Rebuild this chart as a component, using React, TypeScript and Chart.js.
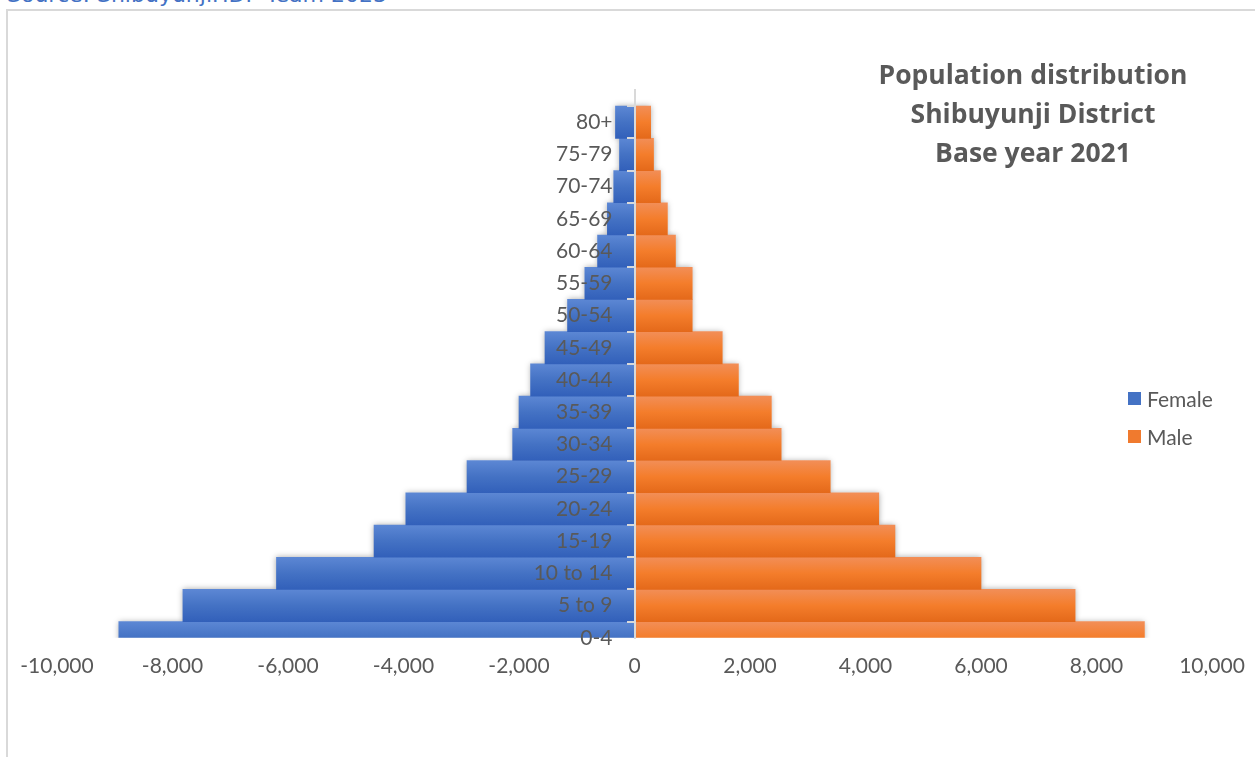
import React, { useEffect, useRef } from 'react';
import { Chart, registerables, CategoryScale } from 'chart.js';

Chart.register(...registerables);

// Category scale whose labels sit left of the tick marks even when the axis is placed at x = 0
class CenterCategoryScale extends (CategoryScale as any) {
  static id = 'centerCategory';
  static defaults = (CategoryScale as any).defaults;
  _computeLabelItems(chartArea: any) {
    const items = super._computeLabelItems(chartArea);
    const o = this.options;
    const shift = (o.grid.drawTicks ? o.grid.tickLength : 0) + o.ticks.padding;
    return items.map((it: any) => ({
      ...it,
      options: { ...it.options, translation: [it.options.translation[0] - shift, it.options.translation[1]] },
    }));
  }
}
Chart.register(CenterCategoryScale as any);

// ---- data ----
const ageGroups = ['0-4', '5 to 9', '10 to 14', '15-19', '20-24', '25-29', '30-34', '35-39', '40-44', '45-49', '50-54', '55-59', '60-64', '65-69', '70-74', '75-79', '80+'];
const female = [8930, 7820, 6200, 4510, 3960, 2900, 2110, 2000, 1800, 1550, 1160, 860, 640, 470, 360, 260, 330];
const male = [8830, 7630, 6000, 4510, 4230, 3390, 2540, 2370, 1800, 1520, 1000, 1000, 710, 570, 450, 330, 280];
const seriesNames = ['Female', 'Male'];
const xMin = -10000;
const xMax = 10000;
const xStep = 2000;
const titleLines = ['Population distribution', 'Shibuyunji District', 'Base year 2021'];
const sourceText = 'Source: ShibuyunjiHDP Team 2023';

// ---- styles ----
const FONT = 'Lato';
const TEXT = '#595959';
const blueStops = ['#5c87d4', '#4472c4', '#3260ba'];
const orangeStops = ['#f28e57', '#f47d2b', '#e4691a'];
const legendColors = ['#4472c4', '#f07a2e'];

const makeGradient = (stops: string[]) => (ctx: any) => {
  const chart = ctx.chart;
  const y = chart.scales && chart.scales.y;
  if (!chart.chartArea || !y || ctx.dataIndex === undefined) return stops[1];
  const c = y.getPixelForValue(ctx.dataIndex);
  const h = Math.abs(y.getPixelForValue(1) - y.getPixelForValue(0));
  const g = chart.ctx.createLinearGradient(0, c - h / 2, 0, c + h / 2);
  g.addColorStop(0, stops[0]);
  g.addColorStop(0.5, stops[1]);
  g.addColorStop(1, stops[2]);
  return g;
};

const shadowPlugin = {
  id: 'barShadow',
  beforeDatasetsDraw(chart: any) {
    const ctx = chart.ctx;
    const a = chart.chartArea;
    ctx.save();
    ctx.beginPath();
    ctx.rect(a.left, a.top, a.right - a.left, a.bottom - a.top);
    ctx.clip();
    ctx.shadowColor = 'rgba(0,0,0,0.35)';
    ctx.shadowBlur = 6;
    ctx.fillStyle = '#ffffff';
    chart.data.datasets.forEach((_d: any, di: number) => {
      const meta = chart.getDatasetMeta(di);
      meta.data.forEach((el: any) => {
        const p = el.getProps(['x', 'y', 'base', 'height'], true);
        if (p.x == null || isNaN(p.x)) return;
        const left = Math.min(p.x, p.base);
        const w = Math.abs(p.x - p.base);
        if (w < 0.5) return;
        ctx.fillRect(left, p.y - p.height / 2, w, p.height);
      });
    });
    ctx.restore();
  },
};

export default function App() {
  const canvasRef = useRef<HTMLCanvasElement | null>(null);

  useEffect(() => {
    if (!canvasRef.current) return;
    const labels = [...ageGroups, ''];
    const chart = new Chart(canvasRef.current, {
      type: 'bar',
      data: {
        labels,
        datasets: [
          {
            label: seriesNames[0],
            data: [...female.map((v) => -v), null],
            backgroundColor: makeGradient(blueStops),
            borderWidth: 0,
            barPercentage: 1,
            categoryPercentage: 1,
          },
          {
            label: seriesNames[1],
            data: [...male, null],
            backgroundColor: makeGradient(orangeStops),
            borderWidth: 0,
            barPercentage: 1,
            categoryPercentage: 1,
          },
        ],
      },
      options: {
        indexAxis: 'y',
        animation: false,
        responsive: true,
        maintainAspectRatio: false,
        layout: { padding: { left: 57, right: 43, top: 90, bottom: 62 } },
        plugins: {
          legend: { display: false },
          title: { display: false },
          tooltip: { enabled: false },
        },
        scales: {
          x: {
            type: 'linear',
            min: xMin,
            max: xMax,
            stacked: true,
            grid: { display: false, drawTicks: false },
            border: { display: false },
            ticks: {
              stepSize: xStep,
              padding: 3,
              color: TEXT,
              font: { family: FONT, size: 21, lineHeight: 2.44 },
              maxRotation: 0,
              callback: (v: any) => Number(v).toLocaleString('en-US'),
            },
          },
          y: {
            type: 'centerCategory',
            reverse: true,
            offset: false,
            stacked: true,
            position: { x: 0 } as any,
            grid: {
              drawOnChartArea: false,
              drawTicks: true,
              tickLength: 7,
              color: '#d9d9d9',
              lineWidth: 2,
              z: 1,
            },
            border: { display: true, color: '#d9d9d9', width: 2, z: 1 },
            ticks: {
              padding: 15,
              color: TEXT,
              font: { family: FONT, size: 21 },
              autoSkip: false,
              z: 2,
            },
          },
        },
      } as any,
      plugins: [shadowPlugin],
    });
    return () => chart.destroy();
  }, []);

  return (
    <div style={{ position: 'fixed', inset: 0, overflow: 'hidden', background: '#ffffff' }}>
      <div
        style={{
          position: 'absolute',
          left: 7,
          top: -16,
          font: '22px "DejaVu Sans"',
          lineHeight: '22px',
          color: '#4472c4',
          whiteSpace: 'nowrap',
        }}
      >
        {sourceText}
      </div>
      <div
        style={{
          position: 'absolute',
          left: 6,
          top: 9,
          width: 3000,
          height: 3000,
          borderLeft: '2px solid #d9d9d9',
          borderTop: '2px solid #d9d9d9',
        }}
      />
      <div style={{ position: 'absolute', left: 0, top: 0, width: 1255, height: 757 }}>
        <canvas ref={canvasRef} />
      </div>
      <div
        style={{
          position: 'absolute',
          left: 833,
          width: 400,
          top: 55,
          textAlign: 'center',
          font: `bold 26.5px "Open Sans"`,
          lineHeight: '39px',
          color: TEXT,
        }}
      >
        {titleLines.map((t) => (
          <div key={t}>{t}</div>
        ))}
      </div>
      <div style={{ position: 'absolute', left: 1128, top: 379, font: `21px ${FONT}`, color: TEXT }}>
        {seriesNames.map((n, i) => (
          <div key={n} style={{ display: 'flex', alignItems: 'center', height: 38 }}>
            <span style={{ display: 'inline-block', width: 13, height: 13, background: legendColors[i], marginRight: 6 }} />
            <span>{n}</span>
          </div>
        ))}
      </div>
    </div>
  );
}
